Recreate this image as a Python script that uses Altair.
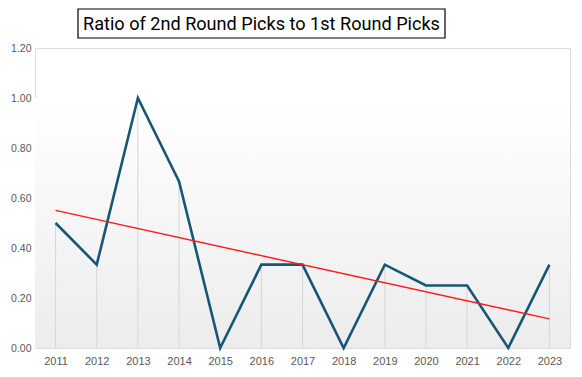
import altair as alt
import pandas as pd

years = [2011, 2012, 2013, 2014, 2015, 2016, 2017, 2018, 2019, 2020, 2021, 2022, 2023]
ratios = [0.5, 1/3, 1.0, 2/3, 0.0, 1/3, 1/3, 0.0, 1/3, 0.25, 0.25, 0.0, 1/3]
y_ticks = [0, 0.2, 0.4, 0.6, 0.8, 1.0, 1.2]
title_text = ["Ratio of 2nd Round Picks to 1st Round Picks"]

df = pd.DataFrame({"year": years, "ratio": ratios})

xscale = alt.Scale(domain=[2010.5, 2023.5], nice=False, zero=False)
yscale = alt.Scale(domain=[0, 1.2], nice=False)

xaxis = alt.Axis(values=years, format="d", title=None, grid=False, ticks=False,
                 domainColor="#d9d9d9", labelColor="#595959", labelFontSize=11,
                 labelFont="Liberation Sans", labelPadding=7)
yaxis = alt.Axis(values=y_ticks, format=".2f", title=None, grid=False, ticks=False,
                 domain=False, labelColor="#595959", labelFontSize=10.5,
                 labelFont="Liberation Sans", labelAlign="right", labelPadding=4, tickSize=0)

base = alt.Chart(df)

bg = alt.Chart(pd.DataFrame({"a": [0]})).mark_rect(
    color=alt.Gradient(gradient="linear",
                       stops=[alt.GradientStop(color="#ffffff", offset=0),
                              alt.GradientStop(color="#ececec", offset=1)],
                       x1=0, x2=0, y1=0, y2=1)
).encode(
    x=alt.datum(2010.5, scale=xscale, axis=xaxis),
    x2=alt.datum(2023.5),
    y=alt.datum(1.0, scale=yscale, axis=yaxis),
    y2=alt.datum(0),
)

drops = base.mark_rule(color="#d6d6d6", strokeWidth=1).encode(
    x=alt.X("year:Q", scale=xscale, axis=xaxis),
    y=alt.Y("ratio:Q", scale=yscale, axis=yaxis),
    y2=alt.datum(0),
)

line = base.mark_line(color="#175676", strokeWidth=2.6).encode(
    x=alt.X("year:Q", scale=xscale, axis=xaxis),
    y=alt.Y("ratio:Q", scale=yscale, axis=yaxis),
)

trend = base.transform_regression("year", "ratio", method="linear").mark_line(
    color="#ff1a1a", strokeWidth=1.4
).encode(
    x=alt.X("year:Q", scale=xscale, axis=xaxis),
    y=alt.Y("ratio:Q", scale=yscale, axis=yaxis),
)

box = alt.Chart(pd.DataFrame({"a": [0]})).mark_rect(
    fill="white", stroke="black", strokeWidth=1.2
).encode(
    x=alt.value(43), x2=alt.value(410), y=alt.value(-39), y2=alt.value(-10)
)

title = alt.Chart(pd.DataFrame({"t": title_text})).mark_text(
    font="Roboto", fontSize=18.1, color="black",
    align="center", baseline="alphabetic"
).encode(
    text="t:N", x=alt.value(226.5), y=alt.value(-18)
)

chart = alt.layer(bg, drops, line, trend, box, title).properties(
    width=535, height=300,
    autosize=alt.AutoSizeParams(type="none"),
    padding={"left": 27, "top": 40, "right": 4, "bottom": 20},
).configure_view(strokeWidth=0).configure(background="white")

chart.save("out.html", embed_options={"renderer": "svg", "actions": False})
